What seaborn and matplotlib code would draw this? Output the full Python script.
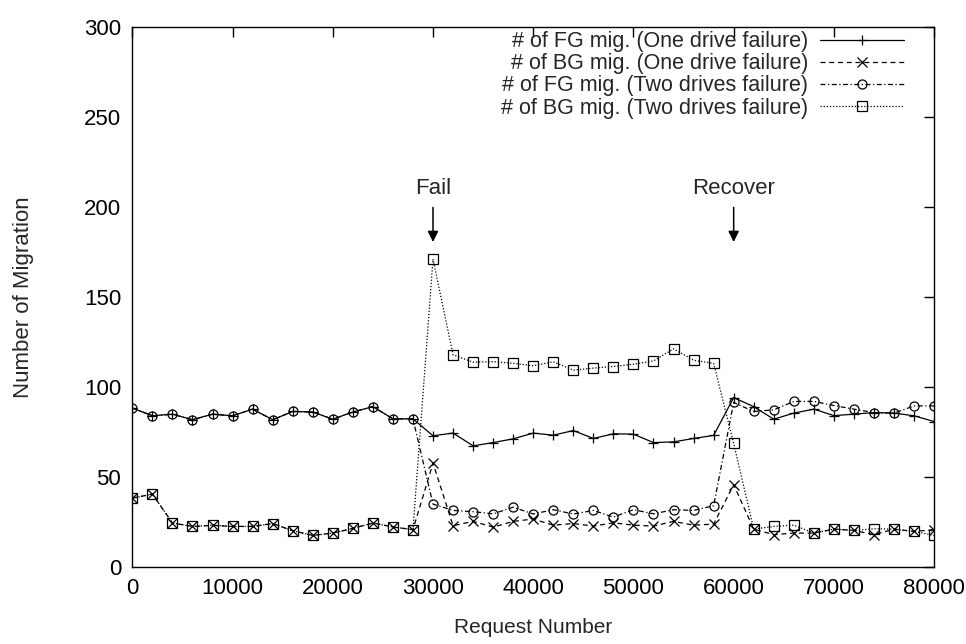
import matplotlib
matplotlib.use("Agg")
import matplotlib.pyplot as plt
import seaborn as sns

# Sample points: one measurement every 2000 requests
request_number = list(range(0, 80001, 2000))

fg_one = [88.2, 83.9, 84.8, 81.7, 84.8, 83.9, 87.6, 81.7, 86.3, 86.0,
          82.0, 86.0, 89.0, 82.2, 82.2, 72.8, 74.3, 67.2, 69.0, 71.1,
          74.3, 73.1, 75.7, 71.3, 73.9, 73.7, 69.0, 69.4, 71.3, 73.0,
          94.0, 89.0, 82.0, 85.4, 87.6, 84.0, 84.8, 85.7, 85.4, 83.9,
          80.7]
bg_one = [38.1, 40.4, 24.3, 22.4, 23.0, 22.4, 22.4, 24.0, 20.0, 17.4,
          18.7, 21.3, 24.3, 22.1, 20.6, 57.6, 22.8, 25.2, 22.0, 25.2,
          26.5, 23.1, 24.0, 22.6, 24.4, 23.1, 22.6, 25.2, 23.1, 23.7,
          45.6, 20.9, 17.8, 18.7, 18.7, 20.9, 20.2, 17.8, 20.9, 19.6,
          20.6]
fg_two = [88.2, 83.9, 84.8, 81.7, 84.8, 83.9, 87.6, 81.7, 86.3, 86.0,
          82.0, 86.0, 89.0, 82.2, 82.2, 34.8, 31.3, 30.6, 29.4, 33.1,
          29.3, 31.7, 29.3, 31.3, 27.6, 31.7, 29.4, 31.7, 31.3, 33.9,
          91.3, 86.3, 87.2, 91.9, 91.9, 89.6, 87.6, 85.7, 85.4, 89.4,
          89.4]
bg_two = [38.1, 40.4, 24.3, 22.4, 23.0, 22.4, 22.4, 24.0, 20.0, 17.4,
          18.7, 21.3, 24.3, 22.1, 20.6, 171.0, 117.8, 113.7, 114.0, 113.1,
          111.7, 113.9, 109.3, 110.4, 111.3, 112.6, 114.4, 121.1, 114.8, 113.0,
          68.5, 20.9, 22.4, 23.1, 18.7, 20.9, 20.2, 21.1, 20.9, 19.6,
          17.4]

labels = ["# of FG mig. (One drive failure)",
          "# of BG mig. (One drive failure)",
          "# of FG mig. (Two drives failure)",
          "# of BG mig. (Two drives failure)"]
events = ["Fail", "Recover"]
event_x = [30000, 60000]

sns.set_style("white")
plt.rcParams["font.family"] = ["Liberation Sans", "DejaVu Sans"]

fig, ax = plt.subplots(figsize=(9.66, 6.44), dpi=100)
fig.subplots_adjust(left=0.137, right=0.967, bottom=0.120, top=0.958)

styles = [("+", "-"), ("x", (0, (4, 3))), ("o", (0, (4, 2, 1, 2))), ("s", (0, (1, 1.5)))]
for label, values, (marker, ls) in zip(labels, [fg_one, bg_one, fg_two, bg_two], styles):
    sns.lineplot(x=request_number, y=values, ax=ax, color="black",
                 marker=marker, linestyle=ls, linewidth=0.9,
                 markersize=6.5, markerfacecolor="none",
                 markeredgecolor="black", markeredgewidth=0.9, label=label)

for name, xv in zip(events, event_x):
    ax.annotate(name, xy=(xv, 180.5), xytext=(xv, 210.5), ha="center", va="center",
                fontsize=16,
                arrowprops=dict(arrowstyle="-|>", color="black", lw=1.1,
                                mutation_scale=16, shrinkA=4, shrinkB=0))

ax.set_xlim(0, 80000)
ax.set_ylim(0, 300)
ax.set_xticks(range(0, 80001, 10000))
ax.set_yticks(range(0, 301, 50))
ax.tick_params(direction="in", length=7, width=1, top=True, right=True,
               labelsize=16, pad=8, colors="black")
for sp in ax.spines.values():
    sp.set_color("black")
    sp.set_linewidth(1.0)

ax.set_xlabel("Request Number", fontsize=15, labelpad=14)
ax.set_ylabel("Number of Migration", fontsize=16, labelpad=36)

ax.legend(loc="upper right", bbox_to_anchor=(0.976, 1.012), markerfirst=False,
          frameon=False, handlelength=3.9, handletextpad=0.55,
          labelspacing=0.05, fontsize=15.5, borderaxespad=0.1)

fig.savefig("out.png", dpi=100)
